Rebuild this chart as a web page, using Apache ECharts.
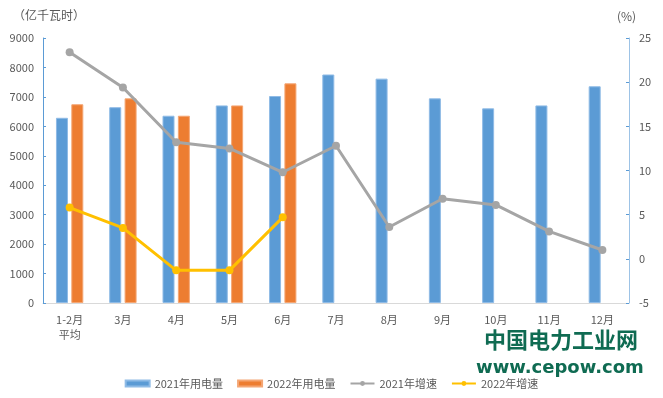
<html>
<head>
<meta http-equiv="Content-Type" content="text/html; charset=utf-8" />
<title></title>
<style>
  body { margin: 0; background: #fff; }
</style>
</head>
<body>
<div id="main" style="width: 663px;height:398px;"></div>
<script src="https://cdn.jsdelivr.net/npm/echarts@6/dist/echarts.min.js" type="text/javascript"></script>
<script type="text/javascript">
var months = ['1-2月\n平均', '3月', '4月', '5月', '6月', '7月', '8月', '9月', '10月', '11月', '12月'];
var use2021 = [6290, 6650, 6360, 6710, 7030, 7760, 7620, 6950, 6610, 6710, 7360];
var use2022 = [6750, 6950, 6360, 6710, 7460, null, null, null, null, null, null];
var growth2021 = [23.4, 19.4, 13.2, 12.5, 9.8, 12.8, 3.6, 6.8, 6.1, 3.1, 1.0];
var growth2022 = [5.8, 3.5, -1.3, -1.3, 4.7, null, null, null, null, null, null];

var fontName = '"Noto Sans CJK SC", sans-serif';
var labelColor = '#595959';

var myChart = echarts.init(document.getElementById('main'));
myChart.setOption({
    animation: false,
    textStyle: { fontFamily: fontName },
    grid: { left: 43, right: 34, top: 38, bottom: 95 },
    legend: {
        bottom: 4,
        left: 'center',
        itemWidth: 24,
        itemHeight: 6,
        itemGap: 14,
        textStyle: { color: labelColor, fontSize: 11, fontFamily: fontName },
        data: [
            { name: '2021年用电量', icon: 'rect' },
            { name: '2022年用电量', icon: 'rect' },
            '2021年增速',
            '2022年增速'
        ]
    },
    graphic: [
        { type: 'text', left: 13, top: 9, style: { text: '（亿千瓦时）', fill: labelColor, fontSize: 12, fontFamily: fontName } },
        { type: 'text', left: 617, top: 10, style: { text: '(%)', fill: labelColor, fontSize: 12, fontFamily: fontName } },
        { type: 'text', left: 484, top: 329, style: { text: '中国电力工业网', fill: '#0f6b52', fontSize: 22, fontWeight: 'bold', fontFamily: fontName } },
        { type: 'text', left: 476, top: 359, style: { text: 'www.cepow.com', fill: '#0f6b52', fontSize: 18, fontWeight: 'bold', fontFamily: 'DejaVu Sans' } }
    ],
    xAxis: {
        type: 'category',
        data: months,
        axisLine: { lineStyle: { color: '#d9d9d9', width: 1 } },
        axisTick: { show: false },
        axisLabel: { color: labelColor, fontSize: 11, margin: 9, lineHeight: 15, interval: 0 }
    },
    yAxis: [
        {
            type: 'value',
            min: 0, max: 9000, interval: 1000,
            axisLine: { show: true, lineStyle: { color: '#5b9bd5' } },
            axisTick: { show: true, inside: true, length: 3, lineStyle: { color: '#5b9bd5' } },
            axisLabel: { color: labelColor, fontSize: 11, margin: 9, formatter: function (v) { return String(v); } },
            splitLine: { show: false }
        },
        {
            type: 'value',
            min: -5, max: 25, interval: 5,
            axisLine: { show: true, lineStyle: { color: '#9dc3e6' } },
            axisTick: { show: true, inside: true, length: 3, lineStyle: { color: '#5b9bd5' } },
            axisLabel: { color: labelColor, fontSize: 11, margin: 10 },
            splitLine: { show: false }
        }
    ],
    series: [
        {
            name: '2021年用电量', type: 'bar', data: use2021,
            barWidth: 12, barGap: '28%',
            itemStyle: { color: '#5b9bd5', borderColor: '#8fbbe6', borderWidth: 1 }
        },
        {
            name: '2022年用电量', type: 'bar', data: use2022,
            barWidth: 12,
            itemStyle: { color: '#ed7d31', borderColor: '#f4a674', borderWidth: 1 }
        },
        {
            name: '2021年增速', type: 'line', yAxisIndex: 1, data: growth2021,
            symbol: 'circle', symbolSize: 8,
            lineStyle: { color: '#a5a5a5', width: 3 },
            itemStyle: { color: '#a5a5a5' }
        },
        {
            name: '2022年增速', type: 'line', yAxisIndex: 1, data: growth2022,
            symbol: 'circle', symbolSize: 8,
            lineStyle: { color: '#ffc000', width: 3 },
            itemStyle: { color: '#ffc000' }
        }
    ]
});
</script>
</body>
</html>
